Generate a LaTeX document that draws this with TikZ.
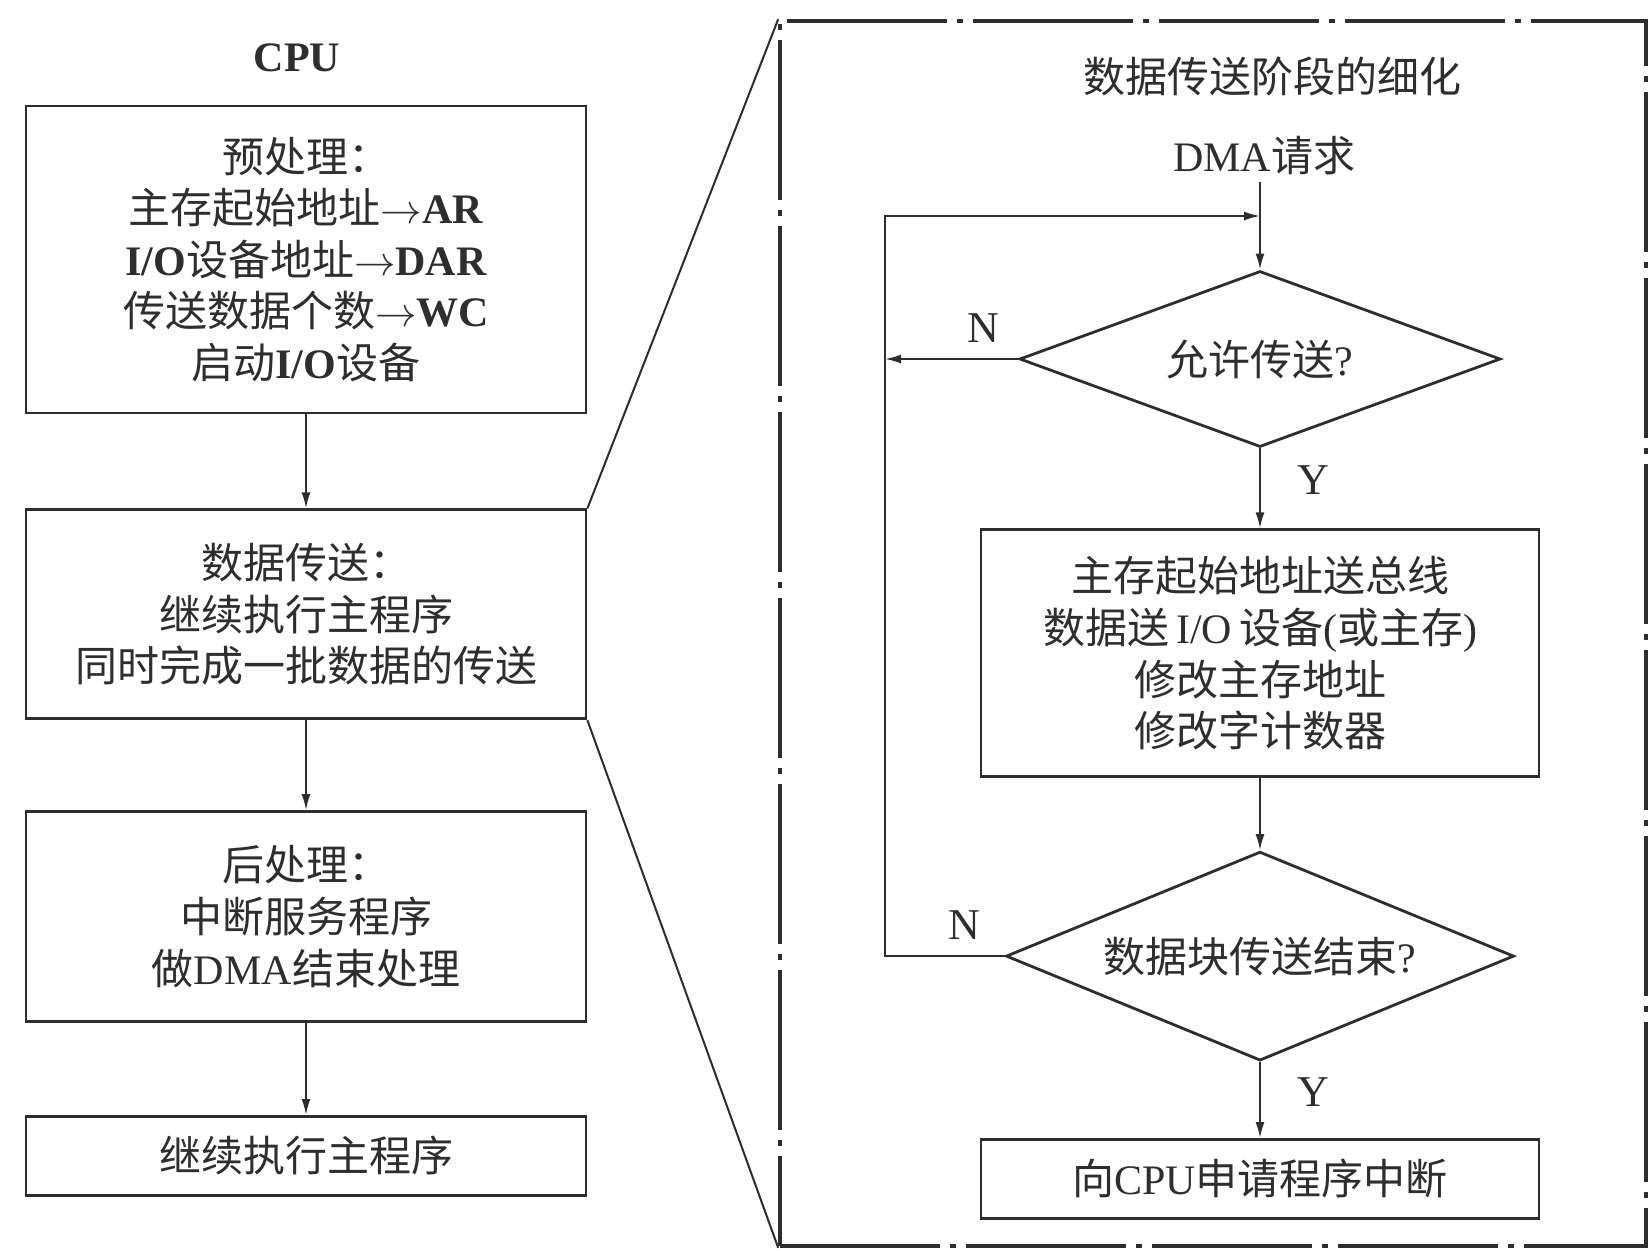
\documentclass[tikz,border=0pt]{standalone}
\usepackage{fontspec}
\setmainfont{Noto Sans CJK SC}
\newfontfamily\latfont{Liberation Serif}
\newcommand\lat[1]{{\latfont #1}}
\newcommand\latb[1]{{\latfont\bfseries #1}}
\usepackage{tikz}
\usetikzlibrary{arrows.meta,positioning,shapes.geometric}
\definecolor{ink}{HTML}{2E2E2E}
\tikzset{
  txt/.style={font=\fontsize{21pt}{25.8pt}\selectfont,text=ink},
  box/.style={txt,draw=ink,line width=1.4pt,align=center,minimum width=280pt,inner sep=0pt},
  test/.style={txt,draw=ink,line width=1.4pt,diamond,aspect=2.6,inner sep=0pt},
  arr/.style={-{Latex[length=8pt,width=4.5pt]},line width=1pt,draw=ink},
  link/.style={line width=1pt,draw=ink},
  zoomframe/.style={draw=ink,line width=1.8pt,dash pattern=on 80pt off 5pt on 3pt off 5pt},
  lbl/.style={font=\latfont\fontsize{22pt}{26pt}\selectfont,text=ink,inner sep=0pt}
}

\begin{document}
\begin{tikzpicture}[x=0.5pt,y=-0.5pt,node distance=45pt]
 \useasboundingbox[fill=white] (0,0) rectangle (1652,1250);
 % CPU side
 \node[txt] (cpu) at (297,58) {\latb{CPU}};
 \node[box,minimum height=153.5pt] (pre) at (306,259.5) {预处理：\\主存起始地址$\rightarrow$\latb{AR}\\\latb{I/O}设备地址$\rightarrow$\latb{DAR}\\传送数据个数$\rightarrow$\latb{WC}\\启动\latb{I/O}设备};
 \node[box,minimum height=104.5pt,below=47pt of pre] (xfer) {数据传送：\\继续执行主程序\\同时完成一批数据的传送};
 \node[box,minimum height=105pt,below=of xfer] (post) {后处理：\\中断服务程序\\做\lat{DMA}结束处理};
 \node[box,minimum height=39.5pt,below=46pt of post] (resume) {继续执行主程序};
 \draw[arr] (pre)--(xfer); \draw[arr] (xfer)--(post); \draw[arr] (post)--(resume);
 % zoomed detail of the transfer phase
 \node[zoomframe,minimum width=433pt,minimum height=612.5pt] (detail) at (1213,633.5) {};
 \draw[link] (xfer.north east)--(detail.north west);
 \draw[link] (xfer.south east)--(detail.south west);
 \node[txt] (title) at (1272,76) {数据传送阶段的细化};
 \node[txt] (dmareq) at (1264,156) {\lat{DMA}请求};
 \node[test,minimum width=240.5pt,minimum height=88pt] (allow) at (1260,359) {允许传送\lat{?}};
 \node[box,minimum width=279pt,minimum height=123.5pt,below=40pt of allow] (move) {主存起始地址送总线\\数据送\,\lat{I/O}\,设备\lat{(}或主存\lat{)}\\修改主存地址\\修改字计数器};
 \node[test,minimum width=254pt,minimum height=104.5pt,below=36pt of move] (done) {数据块传送结束\lat{?}};
 \node[box,minimum width=279pt,minimum height=39.5pt,below=38pt of done] (irq) {向\lat{CPU}申请程序中断};
 \coordinate (join) at (1260,216);
 \coordinate (loop) at (885,216);
 \draw[arr] (dmareq.south -| allow.north)--(allow.north);
 \draw[arr] (allow.west)--node[lbl,pos=0.26,above=8pt]{N} (allow.west -| loop);
 \draw[arr] (allow.south)--node[lbl,pos=0.4,right=18pt]{Y} (move.north);
 \draw[arr] (move)--(done);
 \draw[arr] (done.south)--node[lbl,pos=0.4,right=18pt]{Y} (irq.north);
 \draw[arr] (done.west)-|node[lbl,pos=0.17,above=8pt]{N} (loop)--(join);
\end{tikzpicture}
\end{document}
